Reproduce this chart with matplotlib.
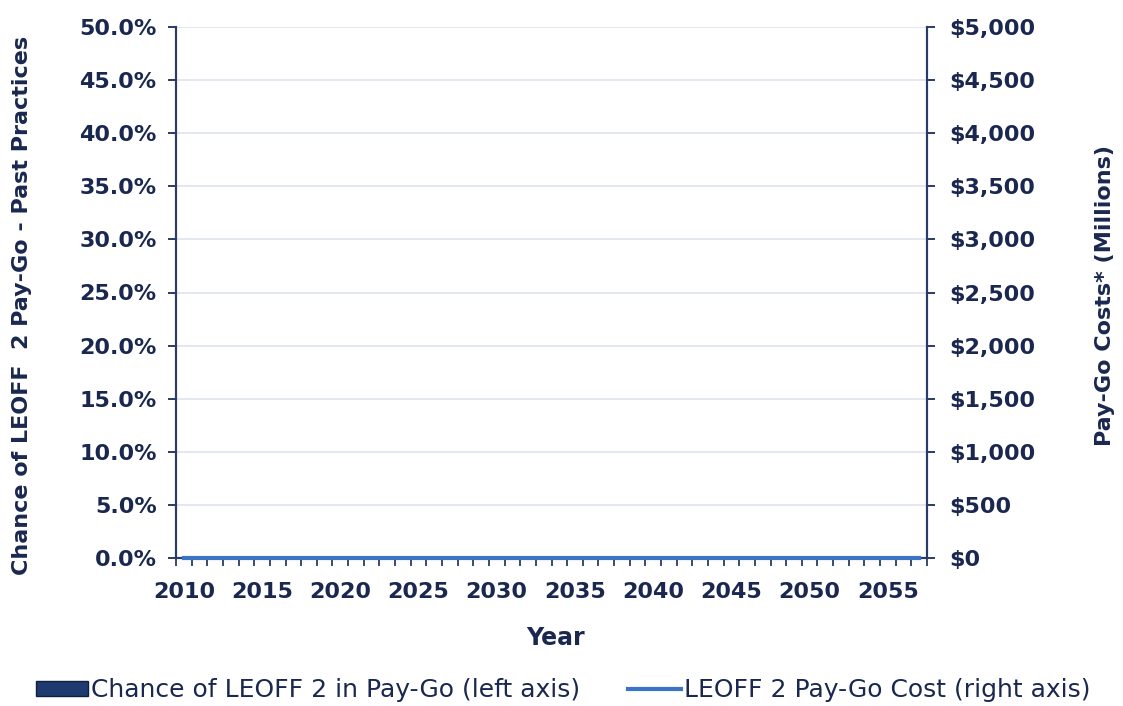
import matplotlib
matplotlib.use("Agg")
import matplotlib.pyplot as plt
import numpy as np
from matplotlib.ticker import FixedLocator, FuncFormatter
from matplotlib.patches import Patch

years = list(range(2010, 2058))
chance_paygo = [0.0] * len(years)          # fraction (left axis)
paygo_cost = [0.0] * len(years)            # $ millions (right axis)
left_ticks = [0.0, 0.05, 0.10, 0.15, 0.20, 0.25, 0.30, 0.35, 0.40, 0.45, 0.50]
right_ticks = [0, 500, 1000, 1500, 2000, 2500, 3000, 3500, 4000, 4500, 5000]
label_years = [2010, 2015, 2020, 2025, 2030, 2035, 2040, 2045, 2050, 2055]

TXT = "#1a2850"
SPINE = "#2c3b66"
BAR = "#1f3a6e"
LINE = "#3a74c4"
GRID = "#dfe5f1"

plt.rcParams['font.family'] = ['DejaVu Sans']

W, H = 1123, 706
fig = plt.figure(figsize=(W / 100, H / 100), dpi=100)
ax = fig.add_axes([176 / W, 1 - 558 / H, (927 - 176) / W, (558 - 27) / H])
ax2 = ax.twinx()

x = np.arange(len(years))
ax.bar(x, chance_paygo, width=0.6, color=BAR, edgecolor="#15284f",
       label="Chance of LEOFF 2 in Pay-Go (left axis)")
line, = ax2.plot(x, paygo_cost, color=LINE, lw=3,
                 label="LEOFF 2 Pay-Go Cost (right axis)", zorder=5, clip_on=False)

ax.set_xlim(-0.5, len(years) - 0.5)
ax.set_ylim(0, 0.5)
ax2.set_ylim(0, 5000)

ax.set_yticks(left_ticks)
ax.yaxis.set_major_formatter(FuncFormatter(lambda v, p: f"{v*100:.1f}%"))
ax2.set_yticks(right_ticks)
ax2.yaxis.set_major_formatter(FuncFormatter(lambda v, p: f"${v:,.0f}"))

ax.set_xticks([years.index(y) for y in label_years])
ax.set_xticklabels([str(y) for y in label_years])
ax.xaxis.set_minor_locator(FixedLocator(np.arange(-0.5, len(years), 1.0)))
ax.tick_params(axis='x', which='major', length=0, pad=17, labelsize=16, labelcolor=TXT)
ax.tick_params(axis='x', which='minor', length=6, width=1.3, color=SPINE, direction='out')
for t in ax.get_xticklabels():
    t.set_fontweight('bold')

ax.tick_params(axis='y', which='major', length=6, width=1.4, color=SPINE,
               labelsize=16, labelcolor=TXT, pad=8)
ax2.tick_params(axis='y', which='major', length=6, width=1.4, color=SPINE,
                labelsize=16, labelcolor=TXT, pad=10)
for t in ax.get_yticklabels() + ax2.get_yticklabels():
    t.set_fontweight('bold')

for a in (ax, ax2):
    a.spines["top"].set_visible(False)
    for s in ("left", "right", "bottom"):
        a.spines[s].set_color(SPINE)
        a.spines[s].set_linewidth(1.5)

ax.set_axisbelow(True)
ax.yaxis.grid(True, color=GRID, lw=1.3)
ax.yaxis.get_gridlines()[0].set_visible(False)

fig.text(555 / W, 1 - 638 / H, "Year", fontsize=17, fontweight='bold',
         color=TXT, ha='center', va='center')
fig.text(22 / W, 1 - 305 / H, "Chance of LEOFF  2 Pay-Go - Past Practices",
         fontsize=16, fontweight='bold', color=TXT, ha='center', va='center',
         rotation=90)
fig.text(1105 / W, 1 - 295 / H, "Pay-Go Costs* (Millions)",
         fontsize=16, fontweight='bold', color=TXT, ha='center', va='center',
         rotation=90)

handles = [Patch(facecolor=BAR, edgecolor="#0f1f40"), line]
labels = ["Chance of LEOFF 2 in Pay-Go (left axis)", "LEOFF 2 Pay-Go Cost (right axis)"]
leg = fig.legend(handles, labels, loc='center', bbox_to_anchor=(563 / W, 1 - 690 / H),
                 ncol=2, frameon=False, fontsize=18, handlelength=2.1,
                 handletextpad=0.12, columnspacing=1.9, handleheight=0.55,
                 borderpad=0, borderaxespad=0)
for t in leg.get_texts():
    t.set_color(TXT)

fig.savefig("out.png", dpi=100)
